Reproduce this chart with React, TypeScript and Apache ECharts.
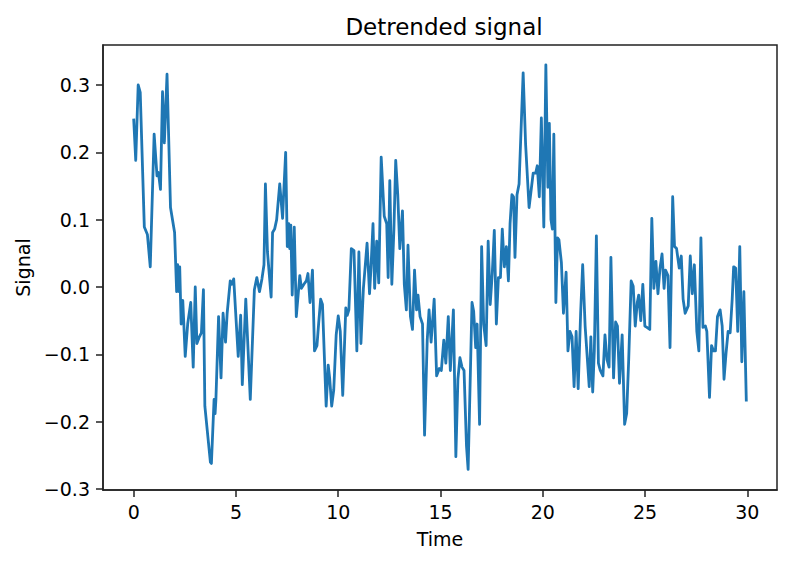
import React, { useEffect, useRef } from "react";
import * as echarts from "echarts";

const times: number[] = [
  0, 0.1, 0.22, 0.32, 0.52, 0.67, 0.81, 1.0, 1.14, 1.21, 1.31, 1.41, 1.5, 1.63, 1.8, 1.93, 2.0, 2.1, 2.15, 2.22,
  2.25, 2.32, 2.4, 2.44, 2.52, 2.64, 2.79, 2.91, 3.01, 3.09, 3.21, 3.31, 3.41, 3.48, 3.75, 3.8, 3.93, 3.98, 4.02, 4.15,
  4.27, 4.37, 4.49, 4.57, 4.72, 4.79, 4.89, 5.11, 5.23, 5.31, 5.48, 5.7, 5.9, 6.02, 6.15, 6.27, 6.37, 6.44, 6.54, 6.72,
  6.79, 6.89, 6.99, 7.14, 7.28, 7.33, 7.43, 7.51, 7.58, 7.63, 7.68, 7.75, 7.85, 7.95, 8.12, 8.2, 8.32, 8.44, 8.52, 8.62,
  8.74, 8.84, 8.96, 9.04, 9.14, 9.23, 9.41, 9.51, 9.58, 9.68, 9.78, 9.9, 10.0, 10.1, 10.22, 10.37, 10.44, 10.52, 10.64, 10.77,
  10.91, 11.01, 11.11, 11.23, 11.41, 11.53, 11.6, 11.7, 11.78, 11.88, 11.98, 12.1, 12.25, 12.37, 12.44, 12.52, 12.62, 12.72, 12.81, 12.91,
  13.01, 13.14, 13.23, 13.33, 13.41, 13.53, 13.63, 13.73, 13.83, 13.9, 14.0, 14.12, 14.22, 14.35, 14.44, 14.54, 14.69, 14.81, 14.94, 15.04,
  15.16, 15.26, 15.38, 15.48, 15.63, 15.75, 15.85, 15.95, 16.05, 16.15, 16.27, 16.35, 16.54, 16.62, 16.72, 16.79, 16.91, 17.01, 17.11, 17.23,
  17.33, 17.43, 17.53, 17.63, 17.73, 17.83, 17.93, 18.02, 18.12, 18.22, 18.32, 18.4, 18.49, 18.57, 18.64, 18.74, 18.84, 19.04, 19.16, 19.33,
  19.53, 19.65, 19.73, 19.83, 19.93, 20.05, 20.15, 20.25, 20.32, 20.4, 20.47, 20.54, 20.64, 20.72, 20.79, 20.91, 21.01, 21.14, 21.23, 21.33,
  21.43, 21.53, 21.63, 21.73, 21.85, 21.95, 22.07, 22.17, 22.27, 22.35, 22.44, 22.52, 22.62, 22.72, 22.81, 22.94, 23.04, 23.14, 23.24, 23.33,
  23.46, 23.56, 23.65, 23.75, 23.88, 24.0, 24.1, 24.2, 24.32, 24.42, 24.52, 24.62, 24.69, 24.79, 24.89, 24.99, 25.09, 25.23, 25.33, 25.43,
  25.53, 25.63, 25.73, 25.83, 25.93, 26.0, 26.12, 26.22, 26.35, 26.44, 26.54, 26.67, 26.77, 26.86, 26.96, 27.11, 27.21, 27.31, 27.41, 27.53,
  27.63, 27.73, 27.83, 27.95, 28.02, 28.15, 28.25, 28.35, 28.44, 28.54, 28.67, 28.77, 28.86, 28.96, 29.06, 29.16, 29.26, 29.33, 29.43, 29.53,
  29.63, 29.73, 29.83, 29.95,
];

const signal: number[] = [
  0.25, 0.188, 0.3, 0.289, 0.089, 0.078, 0.03, 0.227, 0.165, 0.17, 0.145, 0.29, 0.214, 0.316, 0.118, 0.094, 0.081, -0.007, 0.033, -0.007,
  0.03, -0.055, -0.02, -0.047, -0.103, -0.055, -0.023, -0.119, 0.0, -0.084, -0.074, -0.068, -0.004, -0.177, -0.26, -0.262, -0.167, -0.188, -0.167, -0.044,
  -0.135, -0.039, -0.082, -0.039, 0.009, 0.004, 0.012, -0.103, -0.042, -0.145, -0.018, -0.167, -0.004, 0.014, -0.007, 0.012, 0.033, 0.153, 0.052, -0.015,
  0.081, 0.086, 0.1, 0.153, 0.102, 0.137, 0.2, 0.06, 0.094, 0.057, 0.092, -0.012, 0.089, -0.044, 0.017, -0.002, 0.004, 0.009, 0.02, -0.023,
  0.025, -0.095, -0.087, -0.055, -0.018, -0.026, -0.177, -0.116, -0.135, -0.177, -0.153, -0.071, -0.043, -0.066, -0.161, -0.031, -0.042, -0.034, 0.057, 0.054,
  -0.095, 0.052, -0.084, -0.002, 0.065, -0.01, 0.028, 0.094, -0.002, 0.068, 0.006, 0.193, 0.105, 0.094, 0.014, 0.158, 0.004, 0.084, 0.188, 0.137,
  0.057, 0.113, 0.004, -0.034, 0.062, -0.044, -0.063, 0.025, -0.034, -0.012, -0.044, -0.055, -0.22, -0.079, -0.034, -0.082, -0.018, -0.132, -0.121, -0.124,
  -0.079, -0.113, -0.044, -0.124, -0.034, -0.252, -0.137, -0.105, -0.119, -0.124, -0.236, -0.271, -0.023, -0.036, -0.09, -0.055, -0.204, 0.06, -0.055, -0.087,
  0.068, -0.026, 0.02, 0.084, -0.055, 0.014, 0.014, 0.086, 0.03, 0.06, 0.009, 0.094, 0.137, 0.134, 0.044, 0.137, 0.153, 0.318, 0.212, 0.118,
  0.169, 0.169, 0.18, 0.134, 0.251, 0.089, 0.33, 0.148, 0.243, 0.1, 0.086, 0.227, -0.023, 0.073, 0.07, 0.036, -0.039, 0.022, -0.095, -0.066,
  -0.074, -0.148, -0.066, -0.151, -0.039, 0.033, -0.058, -0.103, -0.148, -0.074, -0.156, -0.095, 0.076, -0.113, -0.124, -0.132, -0.071, -0.108, -0.119, 0.044,
  -0.135, -0.052, -0.058, -0.143, -0.071, -0.204, -0.188, -0.108, 0.009, 0.001, -0.058, -0.023, -0.012, -0.05, 0.004, -0.058, -0.06, -0.063, 0.102, -0.002,
  0.038, -0.01, 0.028, 0.049, -0.002, 0.025, 0.017, -0.09, 0.134, 0.06, 0.057, 0.028, 0.046, -0.018, -0.039, -0.028, 0.046, -0.01, 0.033, -0.066,
  -0.095, 0.073, -0.06, -0.058, -0.066, -0.164, -0.087, -0.095, -0.095, -0.044, -0.034, -0.058, -0.137, -0.098, -0.066, -0.068, -0.018, 0.03, 0.028, -0.066,
  0.06, -0.111, -0.007, -0.17,
];

const xTicks: number[] = [0, 5, 10, 15, 20, 25, 30];
const yTicks: number[] = [-0.3, -0.2, -0.1, 0.0, 0.1, 0.2, 0.3];

const FONT = "DejaVu Sans";

export default function App() {
  const ref = useRef<HTMLDivElement>(null);
  useEffect(() => {
    document.body.style.margin = "0";
    if (!ref.current) return;
    const chart = echarts.init(ref.current, undefined, { renderer: "svg" });
    const data = times.map((t, i) => [t, signal[i]]);
    const fmtY = (v: number) => {
      const s = Math.abs(v).toFixed(1);
      return v < -1e-9 ? "\u2212" + s : s;
    };
    chart.setOption({
      animation: false,
      backgroundColor: "#ffffff",
      title: {
        text: "Detrended signal",
        left: 439,
        textAlign: "center",
        top: 10,
        textStyle: { fontFamily: FONT, fontSize: 23, fontWeight: "normal", color: "#000" },
      },
      grid: {
        left: 103,
        right: 10,
        top: 45,
        bottom: 73,
        show: true,
        borderColor: "#222",
        borderWidth: 1.5,
        backgroundColor: "transparent",
      },
      xAxis: {
        type: "value",
        min: -1.5,
        max: 31.45,
        name: "Time",
        nameLocation: "middle",
        nameGap: 39,
        nameTextStyle: { fontFamily: FONT, fontSize: 19, color: "#000" },
        splitLine: { show: false },
        axisLine: { show: true, onZero: false, lineStyle: { color: "#222", width: 1.5 } },
        axisTick: { show: true, length: 7, lineStyle: { color: "#222", width: 1.5 }, customValues: xTicks },
        axisLabel: {
          fontFamily: FONT,
          fontSize: 19,
          color: "#000",
          margin: 12,
          customValues: xTicks,
          formatter: (v: number) => String(v),
        },
      },
      yAxis: {
        type: "value",
        min: -0.3015,
        max: 0.3594,
        name: "Signal",
        nameLocation: "middle",
        nameGap: 70,
        nameTextStyle: { fontFamily: FONT, fontSize: 19, color: "#000" },
        splitLine: { show: false },
        axisLine: { show: true, onZero: false, lineStyle: { color: "#222", width: 1.5 } },
        axisTick: { show: true, length: 7, lineStyle: { color: "#222", width: 1.5 }, customValues: yTicks },
        axisLabel: {
          fontFamily: FONT,
          fontSize: 19,
          color: "#000",
          margin: 13,
          customValues: yTicks,
          formatter: (v: number) => fmtY(v),
        },
      },
      series: [
        {
          type: "line",
          data,
          showSymbol: false,
          symbol: "none",
          lineStyle: { color: "#1f77b4", width: 2.8, join: "round" },
          itemStyle: { color: "#1f77b4" },
        },
      ],
    });
    return () => chart.dispose();
  }, []);
  return <div ref={ref} style={{ width: 787, height: 563 }} />;
}
